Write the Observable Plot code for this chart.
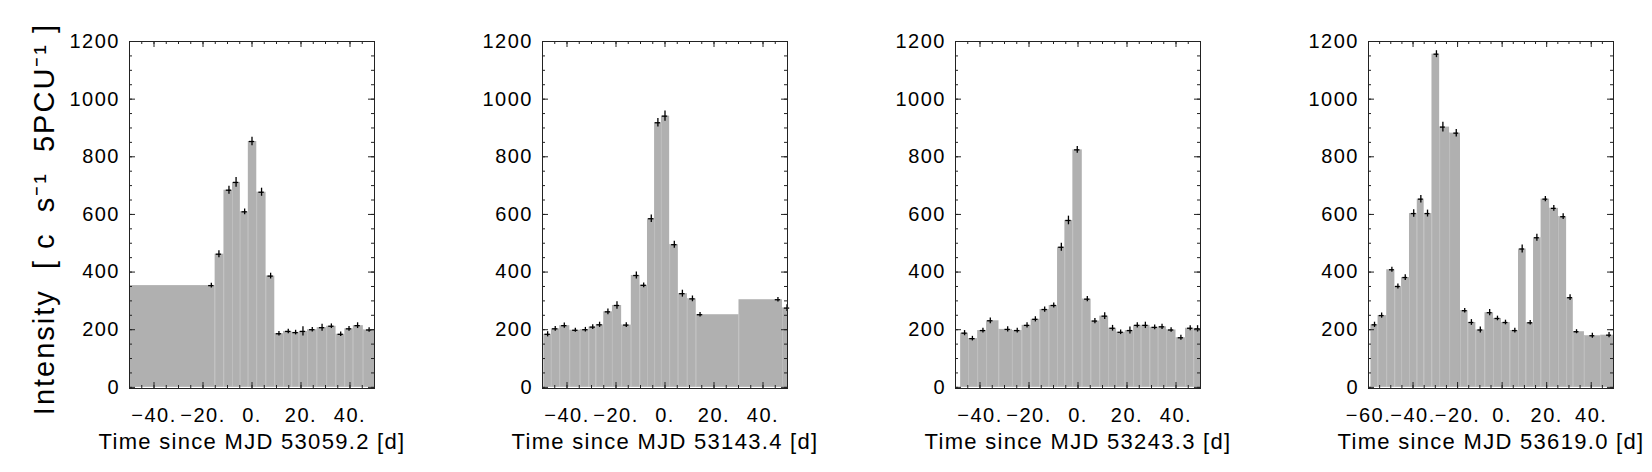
<!DOCTYPE html>
<html><head><meta charset="utf-8">
<script src="https://cdn.jsdelivr.net/npm/d3@7"></script>
<script src="https://cdn.jsdelivr.net/npm/@observablehq/plot@0.6"></script>
<style>
html,body{margin:0;padding:0;background:#fff;}
#fig{position:relative;width:1652px;height:472px;overflow:hidden;}
.panel{position:absolute;top:0;}
</style></head><body><div id="fig"></div>
<script>
// ---- data ----
const mjdRefs = ["53059.2", "53143.4", "53243.3", "53619.0"];

const p1Time = [-16.6,-13.5,-9.4,-6.5,-3.0,0.0,3.9,7.6,11.0,14.8,17.8,20.8,24.6,28.6,32.4,36.2,39.6,43.1,47.8];
const p1Rate = [353,462,684,711,609,853,677,386,186,194,190,194,200,207,212,184,203,214,199];
const p1Err  = [8,12,14,17,10,15,14,10,8,8,8,16,8,12,8,8,8,10,8];
const p1FirstEdge = -60;   // first bin reaches back beyond the plotted window

const p2Time = [-47.9,-44.8,-41.1,-36.6,-32.5,-29.5,-26.7,-23.3,-19.6,-15.8,-11.7,-8.7,-5.6,-2.9,0.0,3.8,7.1,11.2,14.3,46.1,49.8];
const p2Rate = [184,203,214,198,200,209,217,262,284,216,388,354,585,918,941,495,325,307,252,304,275];
const p2Err  = [9,8,9,7,8,8,9,10,13,8,12,8,13,15,18,12,12,10,8,8,12];

const p3Time = [-46.3,-43.1,-38.8,-35.8,-28.7,-24.8,-20.8,-17.4,-13.6,-9.9,-6.8,-3.9,-0.3,3.8,6.9,10.9,14.1,17.4,21.2,24.2,27.5,31.3,34.3,38.0,42.0,45.8,48.8];
const p3Rate = [188,169,197,231,201,197,215,236,270,284,486,579,824,306,230,247,205,191,197,215,215,208,210,199,172,205,203];
const p3Err  = [9,8,8,10,9,8,9,9,9,9,14,15,12,9,9,12,10,8,12,9,11,8,9,8,9,9,11];

const p4Time = [-57.3,-54.1,-49.5,-46.8,-43.5,-39.7,-36.5,-33.5,-29.5,-26.6,-20.6,-16.8,-13.8,-9.8,-5.6,-2.1,1.5,5.7,9.0,12.6,15.6,19.4,23.2,27.4,30.5,33.4,40.5,48.0];
const p4Rate = [217,249,408,350,381,603,653,603,1156,903,882,266,225,199,259,239,225,197,480,224,519,653,621,592,311,193,179,181];
const p4Err  = [9,9,9,9,10,13,13,12,12,17,13,8,10,10,11,8,8,8,14,8,12,9,10,10,10,7,9,9];

const xDomains = [[-50,50],[-50,50],[-50,50],[-60,50]];
const xMajorTicks = [[-40,-20,0,20,40],[-40,-20,0,20,40],[-40,-20,0,20,40],[-60,-40,-20,0,20,40]];
const yMajorTicks = [0,200,400,600,800,1000,1200];
const yDomain = [-4, 1200];
const yLabel = "Intensity  [ c  s\u207B\u00B9  5PCU\u207B\u00B9 ]";

// ---- layout ----
const frameLefts = [129, 542, 955, 1368];
const ML = 100, MR = 60, MT = 41, MB = 84, W = 405, H = 472;
const FW = W - ML - MR, FH = H - MT - MB;
const FONT = "'Liberation Sans', Arial, Helvetica, sans-serif";

const panels = [
  {t: p1Time, v: p1Rate, e: p1Err, first: p1FirstEdge},
  {t: p2Time, v: p2Rate, e: p2Err},
  {t: p3Time, v: p3Rate, e: p3Err},
  {t: p4Time, v: p4Rate, e: p4Err}
];

function makeBins(p) {
  const n = p.t.length;
  return p.t.map((t, i) => {
    const x1 = i === 0 ? (p.first ?? t - (p.t[1] - t) / 2) : (p.t[i - 1] + t) / 2;
    const x2 = i === n - 1 ? (p.last ?? t + (t - p.t[n - 2]) / 2) : (t + p.t[i + 1]) / 2;
    return {t, v: p.v[i], e: p.e[i], x1, x2};
  });
}

const fmtX = d => (d < 0 ? "\u2212" + (-d) : String(d)) + ".";
const fig = document.getElementById("fig");

panels.forEach((p, k) => {
  const bins = makeBins(p);
  const seps = bins.slice(0, -1).map((b, i) => ({x: b.x2, v: Math.min(b.v, bins[i + 1].v)}));
  const [x0, x1] = xDomains[k];
  const xMinor = d3.range(x0, x1 + 0.001, 5);
  const yMinor = d3.range(0, 1200.001, 50);
  const marks = [
    Plot.rectY(bins, {x1: "x1", x2: "x2", y1: 0, y2: "v", fill: "#b0b0b0", clip: true}),
    Plot.ruleX(seps, {x: "x", y1: 0, y2: "v", stroke: "#c2c2c2", strokeWidth: 0.8, clip: true}),
    Plot.ruleX(bins, {x: "t", y1: d => d.v - d.e, y2: d => d.v + d.e, stroke: "#000", strokeWidth: 1.3}),
    Plot.ruleY(bins, {y: "v", x1: d => d.t - 1.1, x2: d => d.t + 1.1, stroke: "#000", strokeWidth: 1.3}),
    // inward ticks (IDL style)
    Plot.tickX(xMinor, {x: d => d, insetBottom: FH - 3, stroke: "#222"}),
    Plot.tickX(xMinor, {x: d => d, insetTop: FH - 3, stroke: "#222"}),
    Plot.tickX(xMajorTicks[k], {x: d => d, insetBottom: FH - 6, stroke: "#222"}),
    Plot.tickX(xMajorTicks[k], {x: d => d, insetTop: FH - 6, stroke: "#222"}),
    Plot.tickY(yMinor, {y: d => d, insetRight: FW - 3, stroke: "#222"}),
    Plot.tickY(yMinor, {y: d => d, insetLeft: FW - 3, stroke: "#222"}),
    Plot.tickY(yMajorTicks, {y: d => d, insetRight: FW - 6, stroke: "#222"}),
    Plot.tickY(yMajorTicks, {y: d => d, insetLeft: FW - 6, stroke: "#222"}),
    Plot.frame({stroke: "#222", strokeWidth: 1}),
    Plot.axisY(yMajorTicks, {anchor: "left", tickSize: 0, tickPadding: 9.5, fontSize: 20, tickFormat: d => String(d), label: null}),
    Plot.axisX(xMajorTicks[k], {anchor: "bottom", tickSize: 0, tickPadding: 19, fontSize: 20, tickFormat: fmtX, label: null}),
    Plot.text([`Time since MJD ${mjdRefs[k]} [d]`], {frameAnchor: "bottom", textAnchor: "middle", lineAnchor: "middle", dy: 53, fontSize: 22, fill: "#000"})
  ];
  if (k === 0) {
    marks.push(Plot.text([yLabel], {frameAnchor: "left", textAnchor: "middle", lineAnchor: "middle", rotate: -90, dx: -85, dy: 4, fontSize: 29, fill: "#000"}));
  }
  const svg = Plot.plot({
    width: W, height: H,
    marginLeft: ML, marginRight: MR, marginTop: MT, marginBottom: MB,
    x: {domain: xDomains[k]},
    y: {domain: yDomain},
    style: `font-family: ${FONT}; font-size: 20px; letter-spacing: 1.5px; color: #000; background: transparent; overflow: visible;`,
    marks
  });
  // per-label letter spacing (the reference font is set wide)
  svg.querySelectorAll("text").forEach(t => {
    const s = t.textContent || "";
    if (s.startsWith("Time")) t.style.letterSpacing = "1.3px";
    else if (s.startsWith("Intensity")) t.style.letterSpacing = "2px";
  });
  svg.classList.add("panel");
  svg.style.position = "absolute";
  svg.style.left = (frameLefts[k] - ML) + "px";
  svg.style.top = "0px";
  fig.appendChild(svg);
});
</script>
</body></html>
